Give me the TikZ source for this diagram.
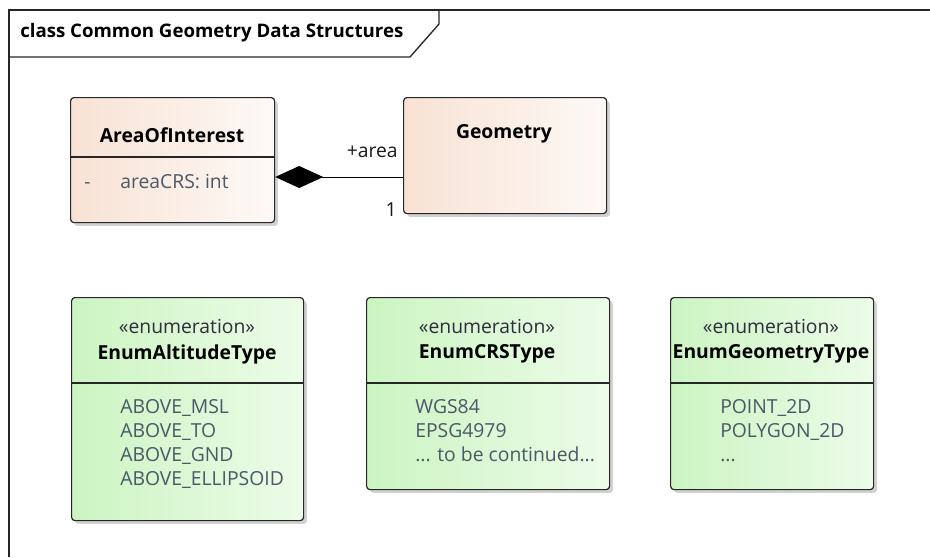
\documentclass[tikz,border=0pt]{standalone}
\usepackage{fontspec}
\setmainfont{Open Sans}
\usetikzlibrary{arrows.meta,shadows}

\definecolor{peachL}{RGB}{248,226,212}
\definecolor{peachR}{RGB}{253,249,246}
\definecolor{greenL}{RGB}{204,244,194}
\definecolor{greenR}{RGB}{236,252,232}
\definecolor{itemgray}{RGB}{74,88,104}
\definecolor{stereo}{RGB}{45,45,62}

\begin{document}
\begin{tikzpicture}[x=0.75pt,y=0.75pt,yscale=-1,xscale=1,
  font=\fontsize{14.5}{18}\selectfont,
  classbox/.style={draw=black!85, line width=0.9pt, rounded corners=2.5pt, anchor=north west,
    inner sep=0pt, drop shadow={shadow xshift=2.5pt, shadow yshift=-2.5pt, opacity=0.18, fill=black}},
  peachbox/.style={classbox, left color=peachL, right color=peachR},
  greenbox/.style={classbox, left color=greenL, right color=greenR},
  classname/.style={font=\fontsize{14.5}{18}\selectfont\bfseries, text=black},
  stereotype/.style={text=stereo},
  itemlist/.style={text=itemgray, anchor=north west, align=left, inner sep=0pt},
  rolelabel/.style={text=black!90, anchor=east, inner sep=0pt}]
\useasboundingbox (0,0) rectangle (930,557);

% frame and name tab
\draw[line width=1pt, black!85] (930,10) -- (9,10) -- (9,557);
\draw[line width=1pt, black!85] (9,57) -- (410,57) -- (439,24) -- (439,10);
\node[font=\fontsize{14}{16}\selectfont\bfseries, anchor=west, inner sep=0pt] (frameTitle) at (20,33) {class Common Geometry Data Structures};

% AreaOfInterest
\node[peachbox, minimum width=153pt, minimum height=93.75pt] (aoi) at (70,97) {};
\draw[line width=0.9pt, black!85] (aoi.west |- 0,157) -- (aoi.east |- 0,157);
\node[classname] (aoiName) at (172,135) {AreaOfInterest};
\node[text=itemgray, anchor=base west, inner sep=0pt] (aoiVis) at (84,188) {-};
\node[text=itemgray, anchor=base west, inner sep=0pt] (aoiAttr) at (120,188) {areaCRS: int};

% Geometry
\node[peachbox, minimum width=152.25pt, minimum height=87pt] (geo) at (403,97) {};
\node[classname] (geoName) at (504,134) {Geometry};

% composition
\draw[line width=0.75pt, -{Diamond[length=36pt,width=16.5pt]}] (geo.west |- 0,177) -- (aoi.east |- 0,177);
\node[rolelabel] (roleArea) at (398,152) {+area};
\node[rolelabel] (roleMult) at (397,210) {1};

% EnumAltitudeType
\node[greenbox, minimum width=174pt, minimum height=167.25pt] (alt) at (71,297) {};
\draw[line width=0.9pt, black!85] (alt.west |- 0,383) -- (alt.east |- 0,383);
\node[stereotype] (altStereo) at (187,326) {«enumeration»};
\node[classname] (altName) at (187,354) {EnumAltitudeType};
\node[itemlist] (altItems) at (120,399) {ABOVE\_MSL\\ABOVE\_TO\\ABOVE\_GND\\ABOVE\_ELLIPSOID};

% EnumCRSType
\node[greenbox, minimum width=182.25pt, minimum height=144pt] (crs) at (366,297) {};
\draw[line width=0.9pt, black!85] (crs.west |- 0,383) -- (crs.east |- 0,383);
\node[stereotype] (crsStereo) at (487,326) {«enumeration»};
\node[classname] (crsName) at (487,354) {EnumCRSType};
\node[itemlist] (crsItems) at (415,399) {WGS84\\EPSG4979\\... to be continued...};

% EnumGeometryType
\node[greenbox, minimum width=152.25pt, minimum height=144pt] (geot) at (670,297) {};
\draw[line width=0.9pt, black!85] (geot.west |- 0,383) -- (geot.east |- 0,383);
\node[stereotype] (geotStereo) at (771,326) {«enumeration»};
\node[classname] (geotName) at (771,354) {EnumGeometryType};
\node[itemlist] (geotItems) at (720,399) {POINT\_2D\\POLYGON\_2D\\...};

\end{tikzpicture}
\end{document}
